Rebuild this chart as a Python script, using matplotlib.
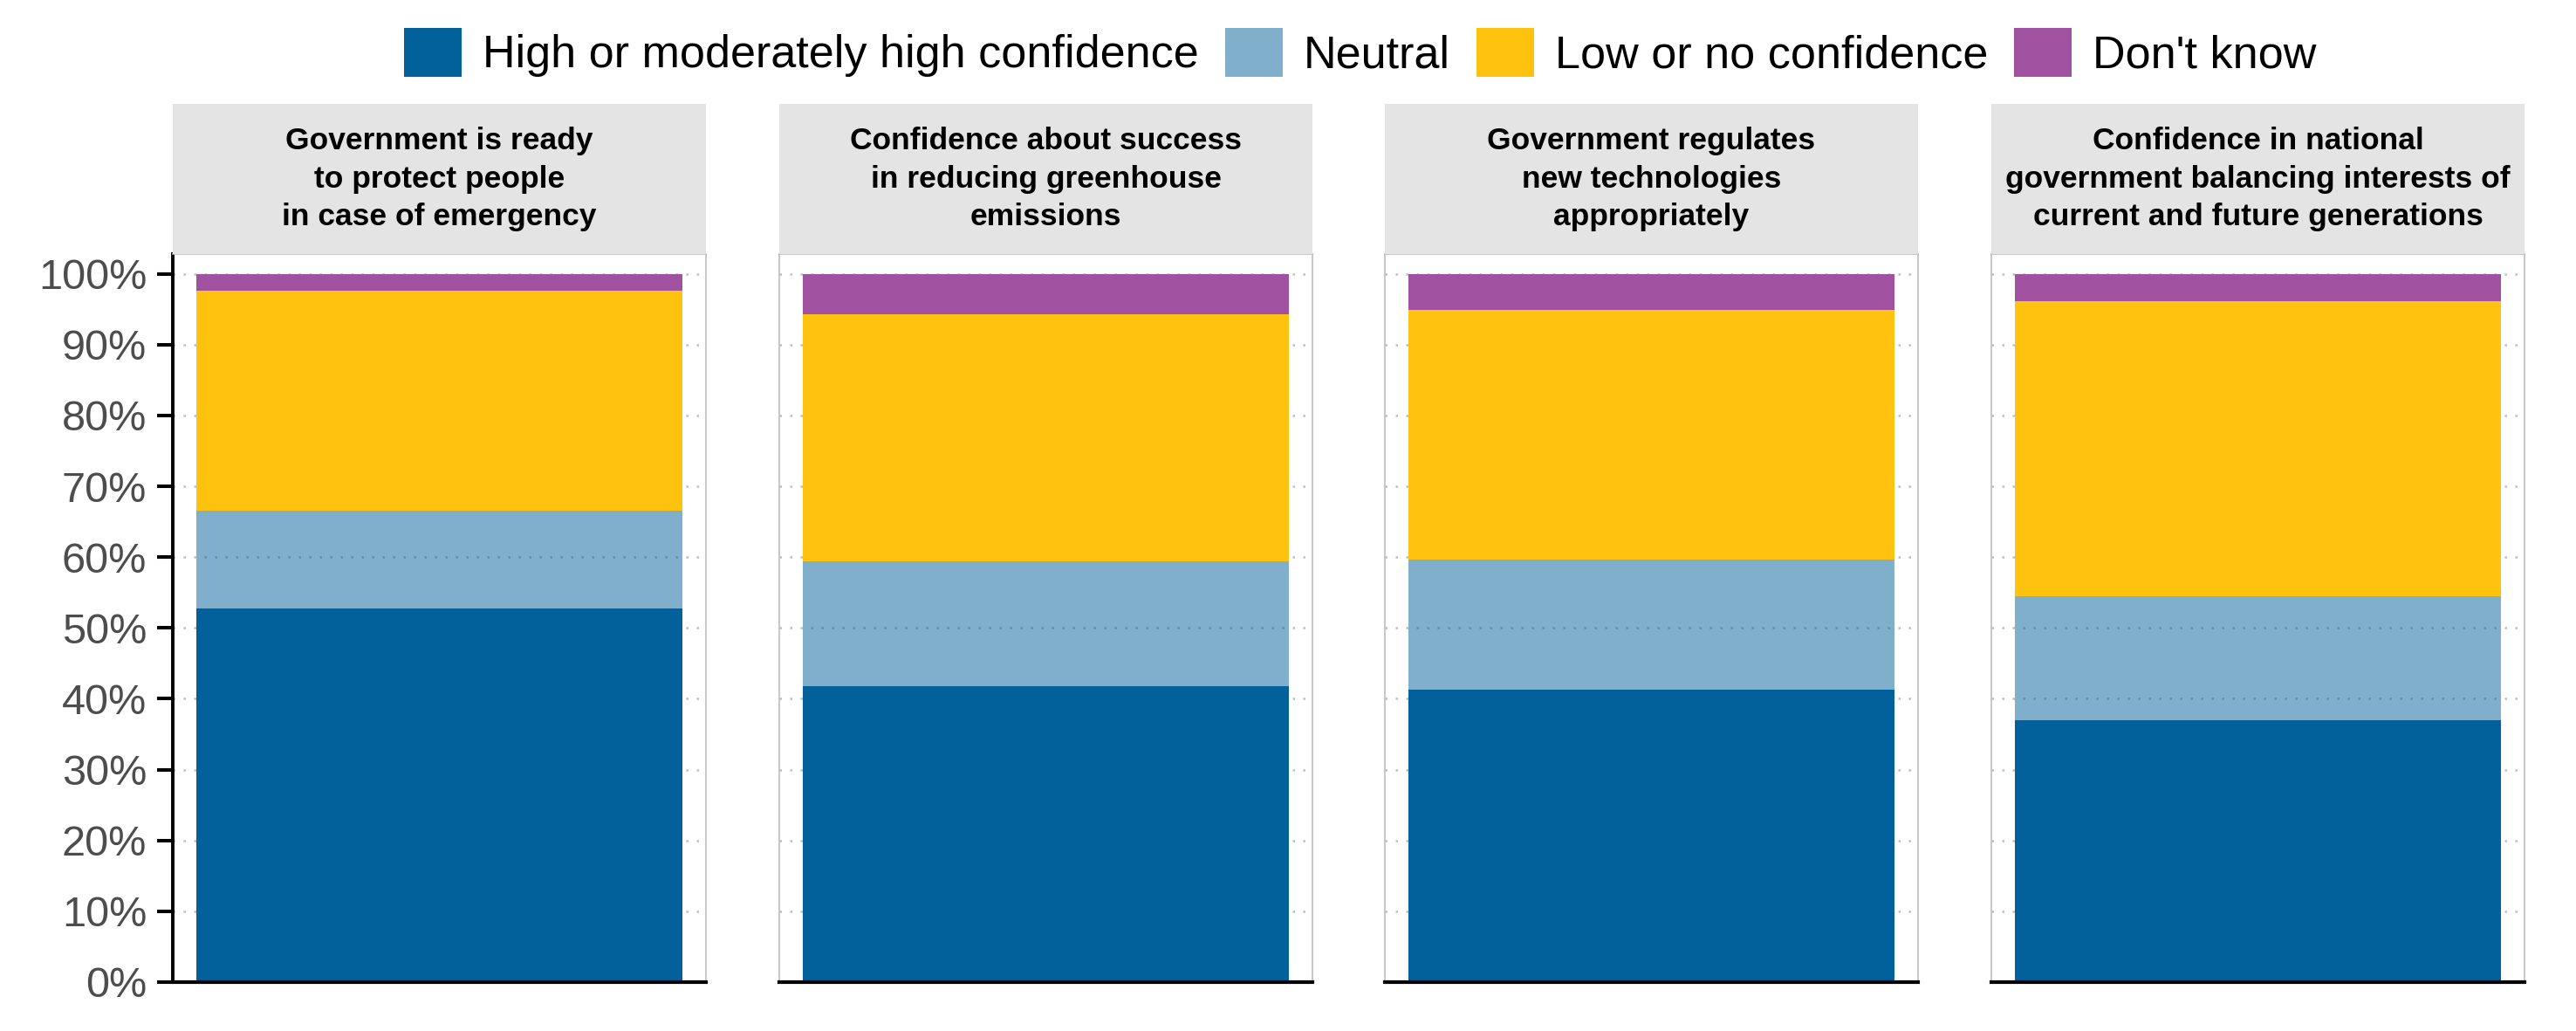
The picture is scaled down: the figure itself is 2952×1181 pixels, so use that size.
import matplotlib
matplotlib.use("Agg")
import matplotlib.pyplot as plt
from matplotlib.patches import Patch
import numpy as np

# ---- data ----
panels = [
    "Government is ready\nto protect people\nin case of emergency",
    "Confidence about success\nin reducing greenhouse\nemissions",
    "Government regulates\nnew technologies\nappropriately",
    "Confidence in national\ngovernment balancing interests of\ncurrent and future generations",
]
categories = ["High or moderately high confidence", "Neutral",
              "Low or no confidence", "Don't know"]
high = [52.8, 41.8, 41.3, 37.0]
neutral = [13.8, 17.6, 18.4, 17.5]
low = [31.0, 34.9, 35.2, 41.6]
dontknow = [2.4, 5.7, 5.1, 3.9]
yticks = [0, 10, 20, 30, 40, 50, 60, 70, 80, 90, 100]
ytick_labels = [f"{v}%" for v in yticks]

series = [high, neutral, low, dontknow]
BLUE = "#02619A"
colors = [BLUE, BLUE, "#FFC20E", "#A052A0"]
alphas = [1.0, 0.5, 1.0, 1.0]

FAM = ["Liberation Sans Narrow", "Liberation Sans", "DejaVu Sans"]
plt.rcParams["font.family"] = FAM

W, H = 2952, 1181
DPI = 100
fig = plt.figure(figsize=(W / DPI, H / DPI), dpi=DPI, facecolor="white")

lefts = [198, 893, 1587, 2282]
pw = 611
ax_top, ax_bot = 291, 1125
strip_top = 119

for i, left in enumerate(lefts):
    ax = fig.add_axes([left / W, (H - ax_bot) / H, pw / W, (ax_bot - ax_top) / H])
    ax.set_facecolor("white")
    bottom = 0.0
    for s, c, a in zip(series, colors, alphas):
        ax.bar([0], [s[i]], bottom=bottom, width=0.91, color=c, alpha=a,
               linewidth=0, zorder=2)
        bottom += s[i]
    ax.set_xlim(-0.5, 0.5)
    ax.set_ylim(0, 102.8)
    ax.set_xticks([])
    ax.set_yticks(yticks)
    ax.set_axisbelow(True)
    ax.yaxis.grid(True, color="#BDBDBD", linestyle=(0, (1, 3.8)), linewidth=1.8, zorder=0)
    for sp in ["top", "right", "left"]:
        ax.spines[sp].set_color("#BDBDBD")
        ax.spines[sp].set_linewidth(1.2)
    ax.spines["bottom"].set_color("black")
    ax.spines["bottom"].set_linewidth(3.0)
    ax.spines["bottom"].set_zorder(5)
    if i == 0:
        ax.spines["left"].set_color("black")
        ax.spines["left"].set_linewidth(2.8)
        ax.set_yticklabels(ytick_labels)
        ax.tick_params(axis="y", length=13, width=2.9, color="black",
                       labelsize=35, labelcolor="#4D4D4D", pad=8.5)
    else:
        ax.tick_params(axis="y", length=0, labelleft=False)

    # strip
    sax = fig.add_axes([left / W, (H - ax_top) / H, pw / W, (ax_top - strip_top) / H])
    sax.set_facecolor("#E4E4E4")
    for sp in sax.spines.values():
        sp.set_visible(False)
    sax.set_xticks([])
    sax.set_yticks([])
    sax.text(0.5, 0.5, panels[i], ha="center", va="center", fontsize=25.5,
             fontweight="bold", color="black", linespacing=1.4,
             transform=sax.transAxes)

handles = [Patch(facecolor=c, alpha=a, edgecolor="none") for c, a in zip(colors, alphas)]
fs_leg = 37.5
em_px = fs_leg * DPI / 72
fig.legend(handles, categories, loc="center", bbox_to_anchor=(1559 / W, 1 - 60 / H),
           ncol=4, frameon=False, fontsize=fs_leg, handlelength=66 / em_px,
           handleheight=66 / em_px, handletextpad=24 / em_px, columnspacing=30 / em_px,
           borderaxespad=0, borderpad=0)

fig.savefig("out.png", dpi=DPI, facecolor="white")
